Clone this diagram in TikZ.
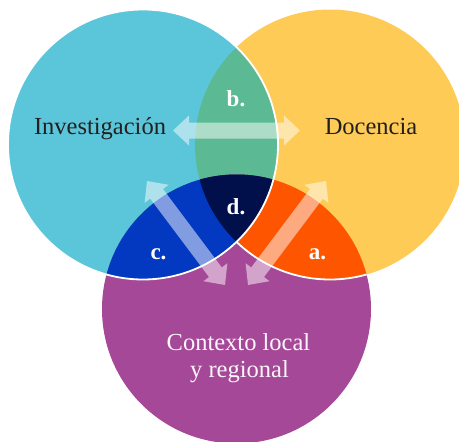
\documentclass[tikz,border=0pt]{standalone}
\usepackage{fontspec}
\setmainfont{Liberation Serif}
\usetikzlibrary{calc}
\definecolor{cblue}{HTML}{5BC6D9}
\definecolor{cyellow}{HTML}{FECB57}
\definecolor{cpurple}{HTML}{A54898}
\definecolor{cgreen}{HTML}{5BBA94}
\definecolor{croyal}{HTML}{0339C1}
\definecolor{corange}{HTML}{FE5500}
\definecolor{cnavy}{HTML}{010F4B}
\definecolor{ctext}{HTML}{231F20}
\tikzset{
  arrowfill/.style={fill=white, fill opacity=0.5},
  bigtext/.style={font=\fontsize{24.5}{27}\selectfont, inner sep=0pt, anchor=base},
  lettertext/.style={font=\fontsize{23}{26}\selectfont\bfseries, text=white, inner sep=0pt, anchor=base},
  outline/.style={draw=white, line width=1.8pt}
}
\newcommand\dblarr[2]{%
  \fill[arrowfill] (#1)
    -- ($(#1)!16pt!(#2)!15pt!90:(#2)$)
    -- ($(#1)!16pt!(#2)!8pt!90:(#2)$)
    -- ($(#2)!16pt!(#1)!8pt!-90:(#1)$)
    -- ($(#2)!16pt!(#1)!15pt!-90:(#1)$)
    -- (#2)
    -- ($(#2)!16pt!(#1)!15pt!90:(#1)$)
    -- ($(#2)!16pt!(#1)!8pt!90:(#1)$)
    -- ($(#1)!16pt!(#2)!8pt!-90:(#2)$)
    -- ($(#1)!16pt!(#2)!15pt!-90:(#2)$)
    -- cycle;}
\begin{document}
\begin{tikzpicture}[x=1pt,y=1pt]
\useasboundingbox (0,0) rectangle (459,-442);
\coordinate (B) at (143,-144.5);
\coordinate (Y) at (330,-144.5);
\coordinate (P) at (236.5,-309);
\def\rb{135}\def\ry{135}\def\rp{134.5}
% base circles
\fill[cpurple] (P) circle[radius=\rp];
\fill[cyellow] (Y) circle[radius=\ry];
\fill[cblue] (B) circle[radius=\rb];
% b: blue & yellow
\begin{scope}
  \clip (B) circle[radius=\rb];
  \fill[cgreen] (Y) circle[radius=\ry];
\end{scope}
% a: yellow & purple
\begin{scope}
  \clip (Y) circle[radius=\ry];
  \fill[corange] (P) circle[radius=\rp];
\end{scope}
% white edge of yellow circle inside purple
\begin{scope}
  \clip (P) circle[radius=\rp];
  \draw[outline] (Y) circle[radius=\ry];
\end{scope}
% c: blue & purple
\begin{scope}
  \clip (B) circle[radius=\rb];
  \fill[croyal] (P) circle[radius=\rp];
\end{scope}
% d: all three
\begin{scope}
  \clip (B) circle[radius=\rb];
  \clip (Y) circle[radius=\ry];
  \fill[cnavy] (P) circle[radius=\rp];
\end{scope}
% white edge of blue circle
\begin{scope}
  \clip (0,0) rectangle (459,-442);
  \draw[outline] (B) circle[radius=\rb];
\end{scope}
% arrows
\coordinate (h1) at (173,-130.5);
\coordinate (h2) at (300,-130.5);
\coordinate (l1) at (147,-181);
\coordinate (l2) at (225,-285);
\coordinate (r1) at (326,-181);
\coordinate (r2) at (248,-285);
\dblarr{h1}{h2}
\dblarr{l1}{l2}
\dblarr{r1}{r2}
% texts
\node[bigtext, text=ctext] (inv) at (100,-134.3) {Investigación};
\node[bigtext, text=ctext] (doc) at (371,-134.3) {Docencia};
\node[bigtext, text=white!95!cpurple] (ctx1) at (238.5,-350) {Contexto local};
\node[bigtext, text=white!95!cpurple] (ctx2) at (239.5,-377) {y regional};
\node[lettertext] (lb) at (236,-106) {b.};
\node[lettertext] (ld) at (236,-214) {d.};
\node[lettertext] (lc) at (158.5,-259) {c.};
\node[lettertext] (la) at (317.5,-259) {a.};
\end{tikzpicture}
\end{document}
